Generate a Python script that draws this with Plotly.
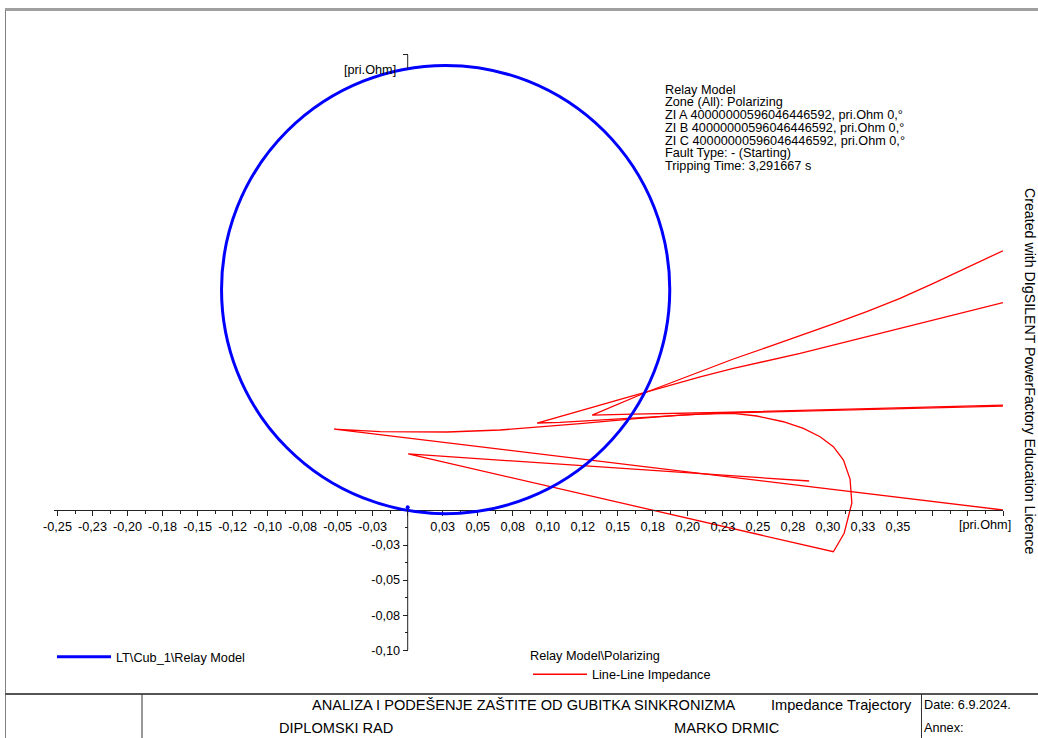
import plotly.graph_objects as go

W, H = 1038, 738
FONT = "Liberation Sans, Arial, sans-serif"

# ---------------- data ----------------
# Mho characteristic (relay model, polarizing zone)
mho_center_r = 0.0271
mho_center_x = 0.1574
mho_radius = 0.160
relay_point_r = [0.0]
relay_point_x = [0.002]

# Line-Line impedance trajectory (R, X in pri.Ohm); None = leaves the visible window
traj_r = [0.4250, -0.0525, -0.0196, 0.0282, 0.0660, 0.0896, 0.1231, 0.1610, 0.1945, 0.2231, 0.3230, 0.4250,
          None,
          0.4250, 0.3230, 0.2231, 0.1610, 0.1374, 0.1317, 0.1716, 0.2231, 0.2325, 0.2564, 0.2802, 0.3039,
          0.3277, 0.3515, 0.3753, 0.3991, 0.4250,
          None,
          0.4250, 0.3753, 0.3277, 0.2802, 0.2325, 0.2088, 0.1517, 0.0924, 0.1088, 0.1610, 0.2088, 0.2323,
          0.2493, 0.2682, 0.2825, 0.2944, 0.3039, 0.3111, 0.3158, 0.3171, 0.3135, 0.3116, 0.3039, 0.0004, 0.2866]
traj_x = [0.0000, 0.0578, 0.0560, 0.0557, 0.0571, 0.0592, 0.0617, 0.0650, 0.0678, 0.0692, 0.0717, 0.0742,
          None,
          0.0749, 0.0721, 0.0696, 0.0685, 0.0682, 0.0678, 0.0846, 0.1040, 0.1078, 0.1161, 0.1242, 0.1328,
          0.1416, 0.1511, 0.1618, 0.1732, 0.1851,
          None,
          0.1480, 0.1356, 0.1237, 0.1118, 0.1011, 0.0951, 0.0789, 0.0621, 0.0625, 0.0655, 0.0685, 0.0690,
          0.0671, 0.0630, 0.0583, 0.0523, 0.0452, 0.0357, 0.0221, 0.0050, -0.0095, -0.0166, -0.0298, 0.0400, 0.0207]

x_tick_vals = [-0.25, -0.225, -0.2, -0.175, -0.15, -0.125, -0.1, -0.075, -0.05, -0.025, 0.0,
               0.025, 0.05, 0.075, 0.1, 0.125, 0.15, 0.175, 0.2, 0.225, 0.25, 0.275, 0.3, 0.325,
               0.35, 0.375, 0.4, 0.425]
x_tick_text = ["-0,25", "-0,23", "-0,20", "-0,18", "-0,15", "-0,12", "-0,10", "-0,08", "-0,05", "-0,03", "",
               "0,03", "0,05", "0,08", "0,10", "0,12", "0,15", "0,18", "0,20", "0,23", "0,25", "0,28", "0,30",
               "0,33", "0,35", "", "", ""]
y_tick_vals = [-0.1, -0.075, -0.05, -0.025, 0.325]
y_tick_text = ["-0,10", "-0,08", "-0,05", "-0,03", ""]
y_minor_vals = [-0.0875, -0.0625, -0.0375, -0.0125]
x_minor_vals = [(a + b) / 2 for a, b in zip(x_tick_vals[:-1], x_tick_vals[1:])]

x_range = [-0.2525, 0.425]
y_range = [-0.1, 0.325]
unit_label = "[pri.Ohm]"

info_lines = ["Relay Model",
              "Zone (All): Polarizing",
              "ZI A 40000000596046446592, pri.Ohm 0,°",
              "ZI B 40000000596046446592, pri.Ohm 0,°",
              "ZI C 40000000596046446592, pri.Ohm 0,°",
              "Fault Type: - (Starting)",
              "Tripping Time: 3,291667 s"]

blue_name = "LT\\Cub_1\\Relay Model"
red_group = "Relay Model\\Polarizing"
red_name = "Line-Line Impedance"
side_text = "Created with DIgSILENT PowerFactory Education Licence"

# ---------------- layout geometry (pixels) ----------------
AX_LEFT, AX_RIGHT = 54, 1003
ORIGIN_PY = 510
scale = (AX_RIGHT - AX_LEFT) / (x_range[1] - x_range[0])
origin_px = AX_LEFT + (0 - x_range[0]) * scale
dom_bottom_py = ORIGIN_PY - y_range[0] * scale
dom_top_py = ORIGIN_PY - y_range[1] * scale


def px(x):
    return x / W


def py(y):
    return 1 - y / H


fig = go.Figure()

# legend entry for the characteristic (circle itself drawn as a shape below)
fig.add_trace(go.Scatter(x=[None], y=[None], mode="lines", name=blue_name,
                         line=dict(color="#0000FF", width=3), legend="legend"))
fig.add_trace(go.Scatter(x=relay_point_r, y=relay_point_x, mode="markers", showlegend=False,
                         marker=dict(color="#0000FF", size=4), hoverinfo="skip"))
fig.add_trace(go.Scatter(x=traj_r, y=traj_x, mode="lines", name=red_name, connectgaps=False,
                         line=dict(color="#FF0000", width=1.3), legend="legend2"))

shapes = []
# mho circle
shapes.append(dict(type="circle", xref="x", yref="y",
                   x0=mho_center_r - mho_radius, x1=mho_center_r + mho_radius,
                   y0=mho_center_x - mho_radius, y1=mho_center_x + mho_radius,
                   line=dict(color="#0000FF", width=3), layer="above"))
# y-axis line pieces
shapes.append(dict(type="line", xref="x", yref="y", x0=0, x1=0, y0=y_range[0], y1=0,
                   line=dict(color="#222222", width=1)))
shapes.append(dict(type="line", xref="x", yref="y", x0=0, x1=0, y0=0.315, y1=y_range[1],
                   line=dict(color="#222222", width=1)))
# frame
shapes.append(dict(type="line", xref="paper", yref="paper", x0=px(5), x1=1, y0=py(9.5), y1=py(9.5),
                   line=dict(color="#A0A0A0", width=3)))
shapes.append(dict(type="line", xref="paper", yref="paper", x0=px(5.5), x1=px(5.5), y0=py(10), y1=0,
                   line=dict(color="#808080", width=1)))
shapes.append(dict(type="line", xref="paper", yref="paper", x0=px(5), x1=1, y0=py(694), y1=py(694),
                   line=dict(color="#555555", width=2)))
shapes.append(dict(type="line", xref="paper", yref="paper", x0=px(142), x1=px(142), y0=py(694), y1=0,
                   line=dict(color="#333333", width=1)))
shapes.append(dict(type="line", xref="paper", yref="paper", x0=px(921.5), x1=px(921.5), y0=py(694), y1=0,
                   line=dict(color="#333333", width=1)))

ann = []
for i, t in enumerate(info_lines):
    ann.append(dict(x=px(662.5), y=py(89.5 + i * 12.8), xref="paper", yref="paper", text=t,
                    xanchor="left", yanchor="middle", showarrow=False,
                    font=dict(family=FONT, size=12.7, color="#000")))
# unit labels
ann.append(dict(x=0, y=y_range[1], xref="x", yref="y", text=unit_label, xanchor="right", yanchor="middle",
                xshift=-10, yshift=-15.5, showarrow=False, font=dict(family=FONT, size=12.7, color="#000")))
ann.append(dict(x=0.4125, y=0, xref="x", yref="y", text=unit_label, xanchor="center", yanchor="middle",
                yshift=-15, showarrow=False, font=dict(family=FONT, size=12.7, color="#000")))
# side text
ann.append(dict(x=px(1030.5), y=py(371.5), xref="paper", yref="paper", text=side_text, textangle=90,
                xanchor="center", yanchor="middle", showarrow=False,
                font=dict(family=FONT, size=14.2, color="#000")))
# title block
tb = [("ANALIZA I PODEŠENJE ZAŠTITE OD GUBITKA SINKRONIZMA", 310, 705, 14.6),
      ("Impedance Trajectory", 769, 705, 14.6),
      ("Date: 6.9.2024.", 922, 705, 12.7),
      ("DIPLOMSKI RAD", 277, 728, 14.6),
      ("MARKO DRMIC", 672, 728, 14.6),
      ("Annex:", 922, 728, 12.7)]
for t, x0, y0, fs in tb:
    ann.append(dict(x=px(x0), y=py(y0), xref="paper", yref="paper", text=t, xanchor="left",
                    yanchor="middle", showarrow=False, font=dict(family=FONT, size=fs, color="#000")))

fig.update_layout(
    width=W, height=H,
    margin=dict(l=0, r=0, t=0, b=0, pad=0, autoexpand=False),
    paper_bgcolor="white", plot_bgcolor="white",
    font=dict(family=FONT, size=12.7, color="#000"),
    xaxis=dict(domain=[px(AX_LEFT), px(AX_RIGHT)], range=x_range, anchor="free",
               position=py(ORIGIN_PY), showline=True, linecolor="#222222", linewidth=1,
               showgrid=False, zeroline=False, ticks="outside", ticklen=5, tickwidth=1,
               tickcolor="#222222", tickmode="array", tickvals=x_tick_vals, ticktext=x_tick_text,
               tickfont=dict(family=FONT, size=12.7, color="#000"),
               minor=dict(ticks="outside", ticklen=3, tickwidth=1, tickcolor="#222222",
                          tickmode="array", tickvals=x_minor_vals, showgrid=False)),
    yaxis=dict(domain=[py(dom_bottom_py), py(dom_top_py)], range=y_range, anchor="free",
               position=px(origin_px), showline=False, showgrid=False, zeroline=False,
               ticks="outside", ticklen=5, tickwidth=1, tickcolor="#222222",
               tickmode="array", tickvals=y_tick_vals, ticktext=y_tick_text,
               tickfont=dict(family=FONT, size=12.7, color="#000"),
               minor=dict(ticks="outside", ticklen=3, tickwidth=1, tickcolor="#222222",
                          tickmode="array", tickvals=y_minor_vals, showgrid=False)),
    shapes=shapes,
    annotations=ann,
    legend=dict(x=px(52), y=py(642), xanchor="left", yanchor="top", bgcolor="rgba(0,0,0,0)",
                font=dict(family=FONT, size=12.7, color="#000"), itemwidth=54, borderwidth=0),
    legend2=dict(x=px(528), y=py(643), xanchor="left", yanchor="top", bgcolor="rgba(0,0,0,0)",
                 title=dict(text=red_group, font=dict(family=FONT, size=12.7, color="#000")),
                 font=dict(family=FONT, size=12.7, color="#000"), itemwidth=54, borderwidth=0),
    showlegend=True,
)

fig.write_html("out.html", config={"displayModeBar": False},
               post_script="document.body.style.margin='0';document.body.style.overflow='hidden';")
